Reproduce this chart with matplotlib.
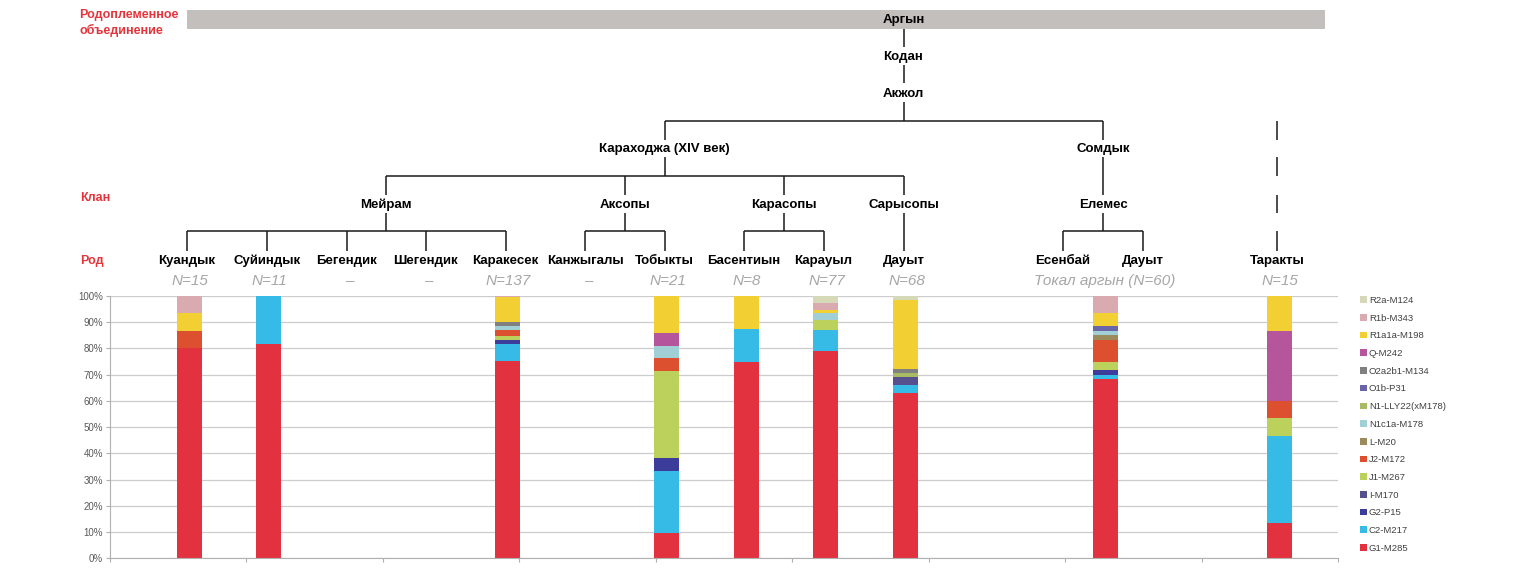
import numpy as np
import matplotlib
matplotlib.use("Agg")
import matplotlib.pyplot as plt
from matplotlib import font_manager
from matplotlib.patches import Rectangle, Patch

# bars (one per sampled group)
populations = ["Куандык", "Суйиндык", "Каракесек", "Тобыкты", "Басентиын",
               "Карауыл", "Дауыт", "Токал аргын", "Таракты"]
sample_labels = ["N=15", "N=11", "N=137", "N=21", "N=8", "N=77", "N=68",
                 "Токал аргын (N=60)", "N=15"]

# haplogroup shares, %  (stack order bottom -> top)
haplogroups = ["G1-M285", "C2-M217", "G2-P15", "I-M170", "J1-M267", "J2-M172",
               "L-M20", "N1c1a-M178", "N1-LLY22(xM178)", "O1b-P31",
               "O2a2b1-M134", "Q-M242", "R1a1a-M198", "R1b-M343", "R2a-M124"]
g1_m285 = [80.0, 81.8, 75.2, 9.5, 75.0, 79.2, 63.2, 68.3, 13.3]
c2_m217 = [0, 18.2, 6.6, 23.8, 12.5, 7.8, 2.9, 1.7, 33.3]
g2_p15 = [0, 0, 1.5, 4.8, 0, 0, 0, 1.7, 0]
i_m170 = [0, 0, 0, 0, 0, 0, 2.9, 0, 0]
j1_m267 = [0, 0, 1.5, 33.3, 0, 3.9, 0, 3.3, 6.7]
j2_m172 = [6.7, 0, 2.2, 4.8, 0, 0, 0, 8.3, 6.7]
l_m20 = [0, 0, 0, 0, 0, 0, 0, 1.7, 0]
n1c1a_m178 = [0, 0, 1.5, 4.8, 0, 2.6, 0, 1.7, 0]
n1_lly22 = [0, 0, 0, 0, 0, 0, 1.5, 0, 0]
o1b_p31 = [0, 0, 0, 0, 0, 0, 0, 1.7, 0]
o2a2b1_m134 = [0, 0, 1.5, 0, 0, 0, 1.5, 0, 0]
q_m242 = [0, 0, 0, 4.8, 0, 0, 0, 0, 26.7]
r1a1a_m198 = [6.7, 0, 9.5, 14.3, 12.5, 1.3, 26.5, 5.0, 13.3]
r1b_m343 = [6.7, 0, 0.5, 0, 0, 2.6, 0, 6.7, 0]
r2a_m124 = [0, 0, 0, 0, 0, 2.6, 1.5, 0, 0]

shares = [g1_m285, c2_m217, g2_p15, i_m170, j1_m267, j2_m172, l_m20, n1c1a_m178,
          n1_lly22, o1b_p31, o2a2b1_m134, q_m242, r1a1a_m198, r1b_m343, r2a_m124]
colors = ["#e3323f", "#35bbe6", "#3c3c9a", "#57508f", "#bcd05c", "#dc5030",
          "#9a8a5c", "#a0d0d6", "#a9bb62", "#6a64a8", "#808080", "#b5559b",
          "#f2cf33", "#d9aab0", "#d6d9b8"]

# tree labels
tribe = "Аргын"
upper = ["Кодан", "Акжол"]
subtribes = ["Караходжа (XIV век)", "Сомдык"]
clans = ["Мейрам", "Аксопы", "Карасопы", "Сарысопы", "Елемес"]
rods = ["Куандык", "Суйиндык", "Бегендик", "Шегендик", "Каракесек", "Канжыгалы",
        "Тобыкты", "Басентиын", "Карауыл", "Дауыт", "Есенбай", "Дауыт", "Таракты"]
rod_n = ["N=15", "N=11", "–", "–", "N=137", "–", "N=21", "N=8", "N=77", "N=68",
         "", "", "N=15"]

names = {f.name for f in font_manager.fontManager.ttflist}
narrow = "Liberation Sans Narrow" if "Liberation Sans Narrow" in names else "Liberation Sans"

W, H = 1519, 575
fig = plt.figure(figsize=(W / 100, H / 100), dpi=100)

# overlay in pixel coordinates for the tree
top = fig.add_axes([0, 0, 1, 1])
top.set_xlim(0, W)
top.set_ylim(H, 0)
top.axis("off")

# x positions (pixels) of the tree nodes
rod_x = [187, 266.6, 346.6, 425.6, 505.6, 585, 664.6, 744, 823.5, 903.5, 1063, 1143, 1277]
clan_x = [386, 625, 784, 903.5, 1103]
sub_x = [664.6, 1103]
root_x = 903.5

lc = "#1a1a1a"
lw = 1.1

def vline(x, y0, y1, **kw):
    top.plot([x, x], [y0, y1], color=lc, lw=lw, solid_capstyle="butt", **kw)

def hline(x0, x1, y):
    top.plot([x0, x1], [y, y], color=lc, lw=lw, solid_capstyle="butt")

tree_font = dict(family=[narrow, "DejaVu Sans"], fontweight="bold", fontsize=9.5,
                 ha="center", va="center", color="black")

top.add_patch(Rectangle((187, 10), 1325 - 187, 19, color="#c3bfbc", lw=0))
top.text(root_x, 20, tribe, **tree_font)
vline(root_x, 29, 47)
top.text(root_x, 57, upper[0], **tree_font)
vline(root_x, 65, 83)
top.text(root_x, 94, upper[1], **tree_font)
vline(root_x, 102, 121)
hline(sub_x[0], sub_x[1], 121)
for x in sub_x:
    vline(x, 121, 140)
for name, x in zip(subtribes, sub_x):
    top.text(x, 149, name, **tree_font)

# Караходжа -> clans
vline(sub_x[0], 157, 176)
hline(clan_x[0], clan_x[3], 176)
for x in clan_x[:4]:
    vline(x, 176, 195)
# Сомдык -> Елемес
vline(sub_x[1], 157, 195)
for name, x in zip(clans, clan_x):
    top.text(x, 205, name, **tree_font)

# clans -> rods
groups = [(0, [0, 1, 2, 3, 4]), (1, [5, 6]), (2, [7, 8]), (3, [9]), (4, [10, 11])]
for ci, kids in groups:
    vline(clan_x[ci], 213, 231)
    xs = [rod_x[k] for k in kids]
    if len(xs) > 1:
        hline(min(xs), max(xs), 231)
    for x in xs:
        vline(x, 231, 251)

# Таракты: broken line
for y0, y1 in [(121, 140), (157, 176), (195, 213), (231, 251)]:
    vline(rod_x[12], y0, y1)

for name, x in zip(rods, rod_x):
    top.text(x, 261, name, **tree_font)

n_font = dict(family=[narrow, "DejaVu Sans"], style="italic", fontsize=11,
              ha="center", va="center", color="#a6a6a6")
for lab, x in zip(rod_n, rod_x):
    if lab:
        top.text(x + 3, 281, lab, **n_font)
top.text((rod_x[10] + rod_x[11]) / 2 + 2, 281, sample_labels[7], **n_font)

red_font = dict(family=[narrow, "DejaVu Sans"], fontweight="bold", fontsize=9,
                ha="left", va="center", color="#e4343c")
top.text(79, 15, "Родоплеменное", **red_font)
top.text(79, 30, "объединение", **red_font)
top.text(80, 198, "Клан", **red_font)
top.text(80, 261, "Род", **red_font)

# bar positions follow the rods they belong to
bar_x = [rod_x[0], rod_x[1], rod_x[4], rod_x[6], rod_x[7], rod_x[8], rod_x[9],
         (rod_x[10] + rod_x[11]) / 2, rod_x[12]]

ax = fig.add_axes([110 / W, (H - 558.3) / H, (1338 - 110) / W, 262.3 / H])
bottom = np.zeros(len(populations))
for vals, col, name in zip(shares, colors, haplogroups):
    vals = np.array(vals, dtype=float)
    ax.bar(np.array(bar_x) + 2, vals, width=25, bottom=bottom, color=col, label=name,
           linewidth=0)
    bottom += vals

ax.set_xlim(110, 1338)
ax.set_ylim(0, 100)
ax.set_yticks(np.arange(0, 101, 10))
ax.set_yticklabels([f"{v}%" for v in range(0, 101, 10)], fontsize=7,
                   color="#595959", family="Liberation Sans")
ax.set_xticks(np.linspace(110, 1338, 10))
ax.set_xticklabels([])
ax.tick_params(axis="x", length=3, color="#b0b0b0", direction="out")
ax.tick_params(axis="y", length=3, color="#b0b0b0", pad=2)
ax.yaxis.grid(True, color="#cccccc", lw=0.9)
ax.set_axisbelow(True)
for s in ["top", "right"]:
    ax.spines[s].set_visible(False)
for s in ["left", "bottom"]:
    ax.spines[s].set_color("#b0b0b0")
ax.patch.set_alpha(0)

handles = [Patch(facecolor=c, edgecolor="none", label=n) for n, c in zip(haplogroups, colors)]
fig.legend(handles=handles[::-1], loc="upper left", bbox_to_anchor=(1360 / W, 1 - 296 / H),
           frameon=False, handlelength=0.7, handleheight=0.7,
           handletextpad=0.25, labelspacing=0.92, borderaxespad=0, borderpad=0,
           prop={"family": "Liberation Sans", "size": 6.8}, labelcolor="#404040")

fig.savefig("out.png", dpi=100)
